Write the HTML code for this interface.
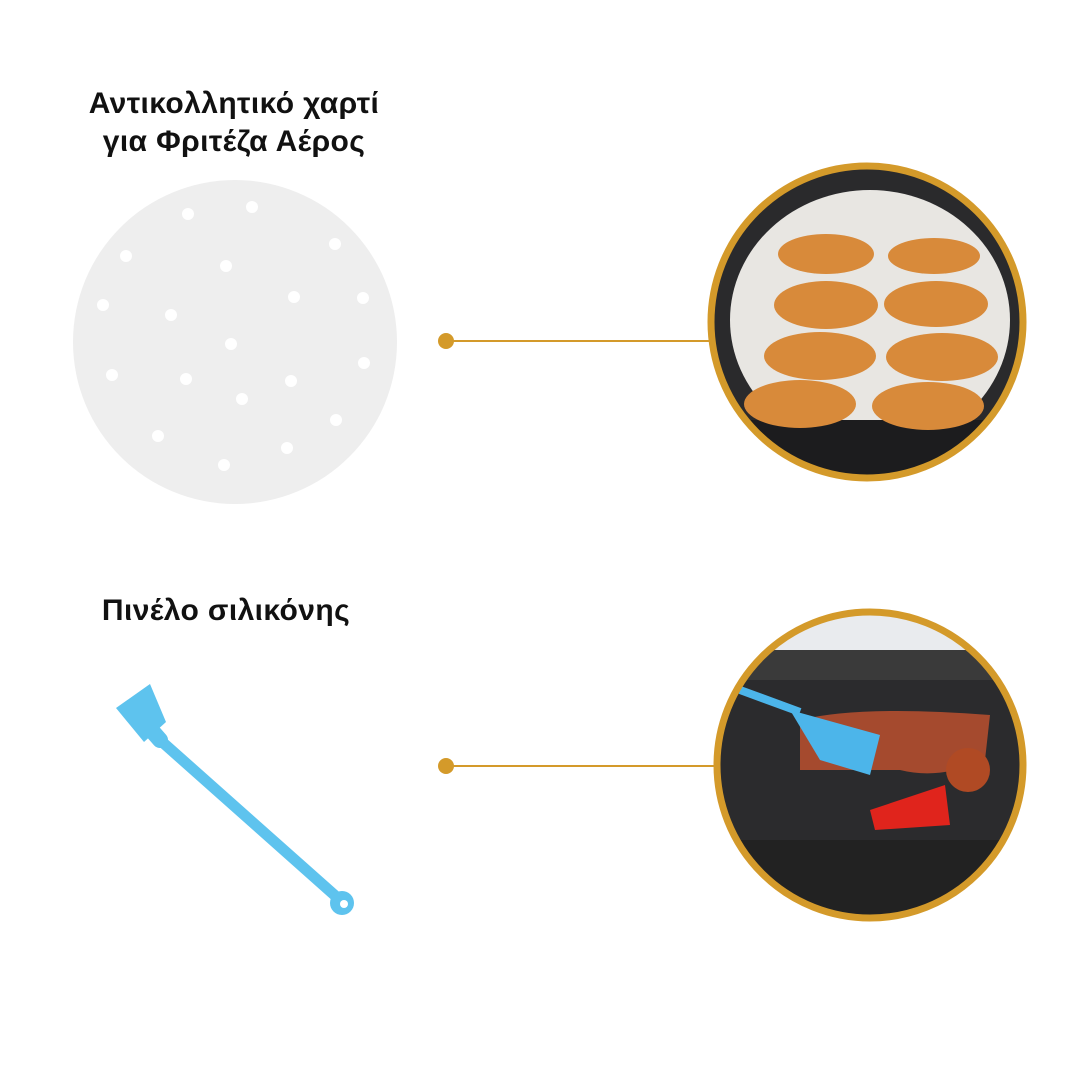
<!DOCTYPE html>
<html><head><meta charset="utf-8"><style>
html,body{margin:0;padding:0;background:#fff;}
.t{position:absolute;font-family:"Liberation Sans","DejaVu Sans",sans-serif;font-weight:bold;font-size:30px;color:#111;text-align:center;line-height:38px;letter-spacing:0.4px;}
</style></head><body>
<div style="position:relative;width:1080px;height:1080px;overflow:hidden;">
<div class="t" style="left:-166px;width:800px;top:85px;">Αντικολλητικό χαρτί<br>για Φριτέζα Αέρος</div>
<div class="t" style="left:-174px;width:800px;top:592px;">Πινέλο σιλικόνης</div>
<svg width="1080" height="1080" style="position:absolute;left:0;top:0">
<defs>
<clipPath id="c1"><circle cx="867" cy="322" r="155"/></clipPath>
<clipPath id="c2"><circle cx="870" cy="765" r="152"/></clipPath>
</defs>
<circle cx="235" cy="342" r="162" fill="#eeeeee"/>
<g fill="#fff">
<circle cx="188" cy="214" r="6"/><circle cx="252" cy="207" r="6"/><circle cx="126" cy="256" r="6"/><circle cx="335" cy="244" r="6"/>
<circle cx="226" cy="266" r="6"/><circle cx="103" cy="305" r="6"/><circle cx="171" cy="315" r="6"/><circle cx="294" cy="297" r="6"/><circle cx="363" cy="298" r="6"/>
<circle cx="231" cy="344" r="6"/><circle cx="112" cy="375" r="6"/><circle cx="186" cy="379" r="6"/><circle cx="291" cy="381" r="6"/><circle cx="364" cy="363" r="6"/>
<circle cx="242" cy="399" r="6"/><circle cx="158" cy="436" r="6"/><circle cx="336" cy="420" r="6"/><circle cx="287" cy="448" r="6"/><circle cx="224" cy="465" r="6"/>
</g>
<circle cx="446" cy="341" r="8" fill="#d49a2a"/>
<line x1="446" y1="341" x2="712" y2="341" stroke="#d49a2a" stroke-width="2"/>
<g clip-path="url(#c1)">
<rect x="700" y="160" width="340" height="330" fill="#2a2a2c"/>
<ellipse cx="870" cy="320" rx="140" ry="130" fill="#e8e6e2"/>
<rect x="740" y="420" width="260" height="60" fill="#1c1c1e"/>
<g fill="#d88a3a">
<ellipse cx="826" cy="254" rx="48" ry="20"/><ellipse cx="934" cy="256" rx="46" ry="18"/>
<ellipse cx="826" cy="305" rx="52" ry="24"/><ellipse cx="936" cy="304" rx="52" ry="23"/>
<ellipse cx="820" cy="356" rx="56" ry="24"/><ellipse cx="942" cy="357" rx="56" ry="24"/>
<ellipse cx="800" cy="404" rx="56" ry="24"/><ellipse cx="928" cy="406" rx="56" ry="24"/>
</g>
</g>
<circle cx="867" cy="322" r="156" fill="none" stroke="#d49a2a" stroke-width="7"/>
<circle cx="446" cy="766" r="8" fill="#d49a2a"/>
<line x1="446" y1="766" x2="714" y2="766" stroke="#d49a2a" stroke-width="2"/>
<g clip-path="url(#c2)">
<rect x="710" y="610" width="320" height="320" fill="#e9ebee"/>
<rect x="710" y="650" width="320" height="280" fill="#3a3a3a"/>
<rect x="720" y="680" width="300" height="160" rx="10" fill="#2b2b2d"/>
<path d="M800 720 Q860 705 990 715 L985 760 Q940 780 900 770 Q840 770 800 770 Z" fill="#a54a2e"/>
<circle cx="968" cy="770" r="22" fill="#b04a24"/>
<path d="M870 810 L945 785 L950 825 L875 830 Z" fill="#e0241c"/>
<path d="M740 690 L800 712" stroke="#4cb5ea" stroke-width="8"/>
<path d="M790 710 L880 735 L870 775 L820 760 Z" fill="#4cb5ea"/>
<rect x="710" y="840" width="320" height="90" fill="#222"/>
</g>
<circle cx="870" cy="765" r="153" fill="none" stroke="#d49a2a" stroke-width="7"/>
<g>
<path d="M116 708 L150 684 L166 722 L144 742 Z" fill="#5ec3ee"/>
<path d="M146 724 L160 740" stroke="#5ec3ee" stroke-width="16" stroke-linecap="round"/>
<path d="M160 740 L340 900" stroke="#5ec3ee" stroke-width="11" stroke-linecap="round"/>
<circle cx="342" cy="903" r="12" fill="#5ec3ee"/><circle cx="344" cy="904" r="4" fill="#fff"/>
</g>
</svg>
</div>
</body></html>
